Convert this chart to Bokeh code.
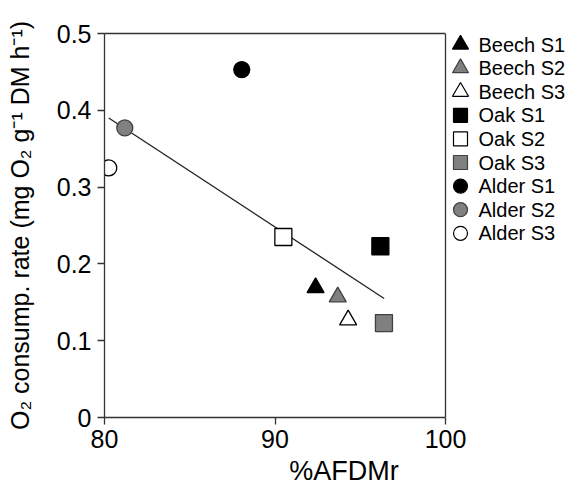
from bokeh.plotting import figure
from bokeh.models import (Range1d, FixedTicker, LinearAxis, Span,
                          ColumnDataSource)
from bokeh.core.properties import value
from bokeh.embed import file_html
from bokeh.resources import INLINE

# ---- data ----
labels = ["Beech S1", "Beech S2", "Beech S3",
          "Oak S1", "Oak S2", "Oak S3",
          "Alder S1", "Alder S2", "Alder S3"]
afdmr = [92.38, 93.68, 94.29, 96.18, 90.49, 96.39, 88.05, 81.19, 80.25]
o2_rate = [0.169, 0.157, 0.127, 0.223, 0.235, 0.123, 0.453, 0.377, 0.325]
fit_x = [80.25, 96.4]
fit_y = [0.390, 0.155]
x_ticks = [80, 90, 100]
y_ticks = [0, 0.1, 0.2, 0.3, 0.4, 0.5]
y_tick_labels = ["0", "0.1", "0.2", "0.3", "0.4", "0.5"]
X0, X1, Y0, Y1 = 80, 100, 0, 0.5

# ---- styles ----
markers = ["triangle"] * 3 + ["square"] * 3 + ["circle"] * 3
GRAY = "#808080"
AX = "#333333"
fills = ["black", GRAY, "white", "black", "white", GRAY, "black", GRAY, "white"]
lines = ["black", "#404040", "black", "black", "black", "#404040", "black", "#404040", "black"]
sizes = [17, 17, 17, 17, 17, 17, 16, 16, 16]
leg_sizes = [16, 16, 16, 14, 14, 14, 14, 14, 14]
FONT = "Liberation Sans"

# ---- layout (pixels) ----
W, H = 583, 494
FL, FR, FT, FB = 104, 445, 33, 417          # box of the axes
LEG_X, LEG_TXT, LEG_Y0, LEG_DY = 460, 478, 44, 23.6
px_per_x = (FR - FL) / (X1 - X0)
px_per_y = (FB - FT) / (Y1 - Y0)
x_end = X0 + (W - FL) / px_per_x             # frame extends under the legend

p = figure(width=W, height=H, output_backend="svg", toolbar_location=None,
           x_range=Range1d(X0, x_end), y_range=Range1d(Y0, Y1),
           min_border_left=FL, min_border_right=0, min_border_top=FT,
           min_border_bottom=H - FB)
p.grid.visible = False
p.outline_line_color = None

p.line(fit_x, fit_y, line_color="#222222", line_width=1.3)
src = ColumnDataSource(dict(x=afdmr, y=o2_rate, marker=markers, fill=fills,
                            line=lines, size=sizes))
p.scatter("x", "y", source=src, marker="marker", size="size",
          fill_color="fill", line_color="line", line_width=1.3)

# legend (drawn beside the box)
leg_x = [X0 + (LEG_X - FL) / px_per_x] * len(labels)
leg_tx = [X0 + (LEG_TXT - FL) / px_per_x] * len(labels)
leg_y = [Y0 + (FB - (LEG_Y0 + LEG_DY * i)) / px_per_y for i in range(len(labels))]
lsrc = ColumnDataSource(dict(x=leg_x, tx=leg_tx, y=leg_y, marker=markers,
                             fill=fills, line=lines, size=leg_sizes, label=labels))
p.scatter("x", "y", source=lsrc, marker="marker", size="size",
          fill_color="fill", line_color="line", line_width=1.2)
p.text("tx", "y", text="label", source=lsrc, text_font=value(FONT),
       text_font_size=value("20px"), text_baseline="middle", text_color="black")

xa = p.below[0]
ya = p.left[0]
for ax in (xa, ya):
    ax.axis_line_color = AX
    ax.axis_line_width = 1.3
    ax.major_tick_line_color = AX
    ax.major_tick_line_width = 1.3
    ax.major_tick_in = 0
    ax.major_tick_out = 7
    ax.minor_tick_line_color = None
    ax.major_label_text_font = FONT
    ax.major_label_text_font_size = "25px"
    ax.major_label_text_color = "black"
    ax.axis_label_text_font = FONT
    ax.axis_label_text_font_style = "normal"
    ax.axis_label_text_color = "black"

xa.bounds = (X0, X1)
xa.ticker = FixedTicker(ticks=x_ticks)
xa.major_label_standoff = 5
xa.axis_label = "%AFDMr"
xa.axis_label_text_font_size = "27px"
xa.axis_label_standoff = 5

ya.ticker = FixedTicker(ticks=y_ticks)
ya.major_label_overrides = {t: l for t, l in zip(y_ticks, y_tick_labels)}
ya.major_label_standoff = 6
ya.axis_label = "O\u2082 consump. rate (mg O\u2082 g\u207b\u00b9 DM h\u207b\u00b9)"
ya.axis_label_text_font_size = "25px"
ya.axis_label_standoff = 20

# box: top line and right line
top_axis = LinearAxis(bounds=(X0, X1), ticker=FixedTicker(ticks=[]),
                      axis_line_color=AX, axis_line_width=1.3,
                      major_tick_line_color=None, minor_tick_line_color=None,
                      major_label_text_font_size="0px")
p.add_layout(top_axis, "above")
p.add_layout(Span(location=X1, dimension="height", line_color=AX, line_width=1.3))

open("out.html", "w").write(file_html(p, INLINE))
